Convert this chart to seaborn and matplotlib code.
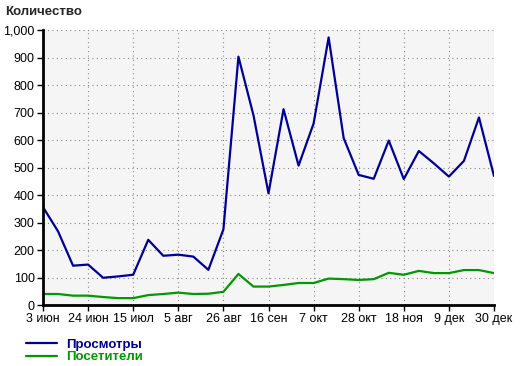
import matplotlib
matplotlib.use("Agg")
import matplotlib.pyplot as plt
import matplotlib.ticker as mticker
from matplotlib.lines import Line2D
import seaborn as sns
import pandas as pd

# weekly data (31 weeks)
week_labels = ["3 июн", "24 июн", "15 июл", "5 авг", "26 авг", "16 сен",
               "7 окт", "28 окт", "18 ноя", "9 дек", "30 дек"]
views = [356, 268, 143, 147, 99, 104, 110, 237, 179, 183, 176, 128, 275,
         903, 690, 406, 712, 507, 660, 973, 607, 473, 459, 598, 458, 560,
         515, 467, 524, 682, 469]
visitors = [40, 40, 34, 34, 29, 25, 25, 36, 40, 45, 40, 41, 48,
            113, 67, 67, 73, 80, 80, 96, 94, 91, 94, 117, 110, 124,
            116, 116, 127, 127, 116]
series_names = ["Просмотры", "Посетители"]
colors = ["#000099", "#009900"]

weeks = list(range(len(views)))
df = pd.DataFrame({
    "week": weeks * 2,
    "value": views + visitors,
    "series": [series_names[0]] * len(views) + [series_names[1]] * len(visitors),
})

sns.set_theme(style="white")
plt.rcParams["font.family"] = ["Liberation Sans", "DejaVu Sans"]

fig = plt.figure(figsize=(5.2, 3.66), dpi=100)
ax = fig.add_axes([43 / 520, 1 - 305 / 366, (494 - 43) / 520, (305 - 30) / 366])
ax.set_facecolor("#f5f5f5")

sns.lineplot(data=df, x="week", y="value", hue="series", palette=colors,
             linewidth=1.6, ax=ax, legend=False)

ax.set_xlim(0, len(views) - 1)
ax.set_ylim(0, 1000)
ax.set_xticks(range(0, len(views), 3))
ax.set_xticklabels(week_labels)
ax.set_yticks(range(0, 1001, 100))
ax.yaxis.set_major_formatter(mticker.FuncFormatter(lambda v, p: f"{int(v):,}"))
ax.grid(True, color="#888888", linestyle=(0, (1, 3)), linewidth=0.8)
ax.set_xlabel("")
ax.set_ylabel("")

for s in ["top", "right"]:
    ax.spines[s].set_visible(False)
for s in ["left", "bottom"]:
    ax.spines[s].set_color("black")
    ax.spines[s].set_linewidth(2)
ax.tick_params(axis="both", which="major", labelsize=9, colors="black",
               length=4, width=1, direction="out", pad=2,
               bottom=True, left=True)

fig.text(5 / 520, 1 - 12 / 366, "Количество", fontsize=9.5, fontweight="bold",
         va="center", ha="left")

# legend
handles = [Line2D([0], [0], color=c, lw=1.6) for c in colors]
leg = fig.legend(handles, series_names, loc="upper left",
                 bbox_to_anchor=(21 / 520, 1 - 333 / 366), frameon=False,
                 handlelength=2.3, handletextpad=0.7, labelspacing=0.05,
                 borderaxespad=0, prop={"weight": "bold", "size": 9.5})
for t, c in zip(leg.get_texts(), colors):
    t.set_color(c)

fig.savefig("out.png", dpi=100)
